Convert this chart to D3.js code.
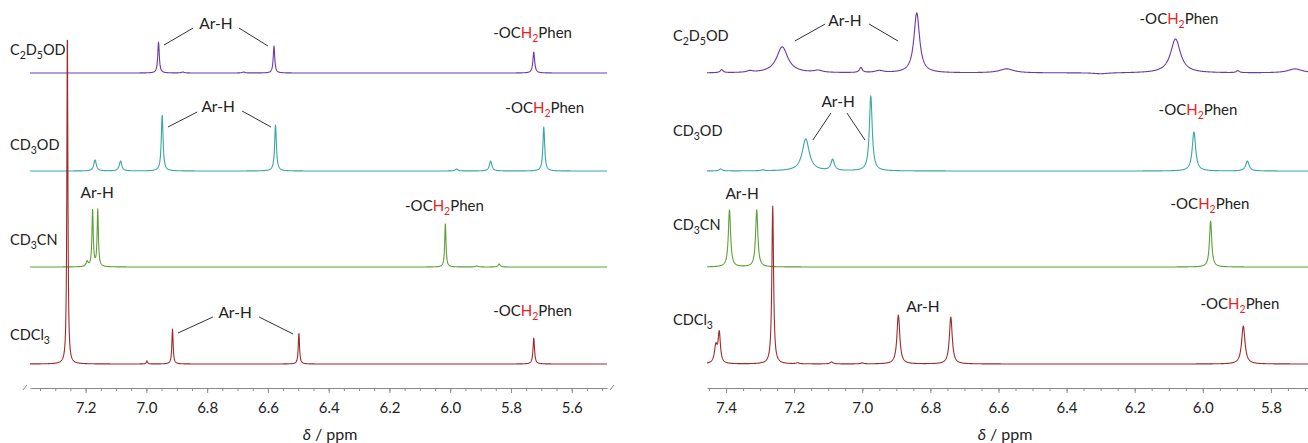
<!DOCTYPE html>
<html>
<head>
<meta charset="utf-8">
<script src="https://cdn.jsdelivr.net/npm/d3@7"></script>
<style>
  body { margin: 0; background: #fff; }
  svg text { font-family: Lato, "Open Sans", sans-serif; fill: #222; }
</style>
</head>
<body>
<svg id="chart" width="1308" height="443"></svg>
<script>
// solvents, top to bottom
const solventNames = ['C_2D_5OD', 'CD_3OD', 'CD_3CN', 'CDCl_3'];
const traceColors = ['#6c3aa8', '#36a7a2', '#5f9f36', '#9e2b2c'];
const baselines = [315, 217, 121, 24]; // intensity units above the axis

const leftTicks = [7.2, 7.0, 6.8, 6.6, 6.4, 6.2, 6.0, 5.8, 5.6];
const rightTicks = [7.4, 7.2, 7.0, 6.8, 6.6, 6.4, 6.2, 6.0, 5.8];

// peaks: [ppm, height, fwhm in ppm]
const leftPeaks = [
  [[6.96, 31, .006], [6.58, 27, .006], [5.725, 21, .007], [6.88, 1, .01], [6.68, 1, .01]],
  [[7.169, 11, .01], [7.085, 10, .01], [6.948, 56, .007], [6.575, 46, .007], [5.979, 2, .01], [5.867, 10, .01], [5.692, 44, .007]],
  [[7.195, 5, .008], [7.177, 57, .005], [7.16, 57, .005], [6.016, 44, .005], [5.913, 1, .01], [5.839, 3, .008]],
  [[7.26, 337, .004], [6.998, 3, .005], [6.914, 35, .005], [6.498, 31, .005], [5.725, 26, .006]]
];
const rightPeaks = [
  [[7.413, 3, .01], [7.33, 1.5, .02], [7.235, 26, .04], [7.13, 2, .03], [7.004, 5, .01], [6.95, 2, .03], [6.84, 60, .02],
   [6.576, 4, .05], [6.3, -1, .05], [6.08, 34, .035], [5.897, 2, .01], [5.729, 4, .05]],
  [[7.416, 2, .01], [7.292, 1, .01], [7.166, 32, .025], [7.087, 11, .012], [6.975, 75, .01], [6.026, 39, .012], [5.869, 10, .012]],
  [[7.39, 57, .008], [7.31, 57, .008], [5.977, 46, .008]],
  [[7.43, 17, .01], [7.42, 30, .008], [7.263, 158, .006], [7.19, 1, .01], [7.09, 2, .01], [7.0, 1, .01],
   [6.894, 49, .01], [6.74, 47, .01], [5.881, 38, .012]]
];

// annotations: [ppm, level] for text centre, leader lines [ppm1, lvl1, ppm2, lvl2]
const leftArH = [[6.771, 364], [6.764, 281], [7.162, 195], [6.708, 75]];
const leftArHLines = [
  [[6.942, 343, 6.846, 360], [6.695, 360, 6.600, 342]],
  [[6.929, 261, 6.833, 276], [6.685, 277, 6.590, 261]],
  [],
  [[6.896, 55, 6.781, 71], [6.629, 71, 6.517, 54]]
];
const leftCH2 = [[5.729, 350], [5.689, 275], [6.019, 177], [5.729, 72]];
const rightArH = [[7.051, 367], [7.071, 286], [7.353, 194], [6.822, 81]];
const rightArHLines = [
  [[7.198, 347, 7.109, 364], [6.980, 364, 6.895, 347]],
  [[7.145, 248, 7.092, 275], [7.045, 275, 6.992, 248]],
  [],
  []
];
const rightCH2 = [[6.070, 364], [6.014, 273], [5.979, 179], [5.891, 79]];
const leftNameLift = [18, 21, 22, 24];
const rightNameLift = [32, 35, 37, 39];

const svg = d3.select('#chart');
const y = d3.scaleLinear().domain([0, 388]).range([388, 0]);
const red = '#ee1c25';

function richText(sel, parts) {
  let shift = 0;
  parts.forEach(p => {
    const want = p.sub ? 4 : 0;
    sel.append('tspan')
      .attr('dy', want - shift)
      .style('font-size', p.sub ? '10.5px' : null)
      .style('fill', p.red ? red : null)
      .text(p.t);
    shift = want;
  });
}
function solventParts(name) {
  return name.split(/(_\d)/).filter(s => s).map(s =>
    s[0] == '_' ? { t: s.slice(1), sub: true } : { t: s });
}
const ch2Parts = [{ t: '-OC' }, { t: 'H', red: true }, { t: '2', sub: true, red: true }, { t: 'Phen' }];

function lorentz(ppm, peaks) {
  let s = 0;
  peaks.forEach(([c, h, w]) => {
    const g = w / 2;
    s += h * g * g / ((ppm - c) * (ppm - c) + g * g);
  });
  return s;
}

function drawPanel(cfg) {
  const x = d3.scaleLinear().domain(cfg.domain).range(cfg.range);
  const g = svg.append('g');

  // axis
  const axis = g.append('g').attr('transform', `translate(0,${y(0)})`)
    .call(d3.axisBottom(x).tickValues(cfg.ticks).tickFormat(d3.format('.1f')).tickSize(5).tickSizeOuter(0));
  g.append('g').attr('transform', `translate(0,${y(0)})`)
    .call(d3.axisBottom(x).tickValues(x.ticks(40)).tickFormat('').tickSize(3).tickSizeOuter(0))
    .select('.domain').remove();
  g.selectAll('.domain, .tick line').attr('stroke', '#8a8a8a');
  axis.selectAll('.tick text')
    .attr('y', 14)
    .style('font-size', '15px')
    .style('font-family', 'Lato, "Open Sans", sans-serif')
    .style('fill', '#222');

  if (cfg.breaks) {
    cfg.range.forEach(r => {
      const bx = r + (r == cfg.range[0] ? -5 : 5);
      g.append('line')
        .attr('x1', bx - 2).attr('y1', y(0) + 2)
        .attr('x2', bx + 2).attr('y2', y(0) - 3)
        .attr('stroke', '#8a8a8a');
    });
  }

  const title = g.append('text')
    .attr('x', cfg.titleX).attr('y', 440)
    .attr('text-anchor', 'middle')
    .style('font-size', '16px');
  title.append('tspan').style('font-style', 'italic').text('δ');
  title.append('tspan').text(' / ppm');

  // spectra
  const px = d3.range(cfg.range[0], cfg.range[1] + 0.01, 0.25);
  cfg.peaks.forEach((peaks, i) => {
    const pts = px.map(p => {
      const ppm = x.invert(p);
      return [ppm, baselines[i] + lorentz(ppm, peaks)];
    });
    g.append('path')
      .datum(pts)
      .attr('fill', 'none')
      .attr('stroke', traceColors[i])
      .attr('stroke-width', 1.1)
      .attr('stroke-linejoin', 'round')
      .attr('d', d3.line().x(d => x(d[0])).y(d => y(d[1])));
  });

  // solvent names
  solventNames.forEach((n, i) => {
    const t = g.append('text')
      .attr('x', cfg.range[0] - cfg.nameGap)
      .attr('y', y(baselines[i] + cfg.nameLift[i]))
      .attr('dy', '0.35em')
      .style('font-size', '14.5px');
    richText(t, solventParts(n));
  });

  // annotations
  cfg.arH.forEach(([p, l]) => {
    g.append('text')
      .attr('x', x(p)).attr('y', y(l)).attr('dy', '0.35em')
      .attr('text-anchor', 'middle')
      .style('font-size', '15.5px')
      .text('Ar-H');
  });
  cfg.arHLines.flat().forEach(([p1, l1, p2, l2]) => {
    g.append('line')
      .attr('x1', x(p1)).attr('y1', y(l1))
      .attr('x2', x(p2)).attr('y2', y(l2))
      .attr('stroke', '#333').attr('stroke-width', 1);
  });
  cfg.ch2.forEach(([p, l]) => {
    const t = g.append('text')
      .attr('x', x(p)).attr('y', y(l)).attr('dy', '0.35em')
      .attr('text-anchor', 'middle')
      .style('font-size', '15px');
    richText(t, ch2Parts);
  });
}

drawPanel({
  domain: [7.383, 5.484], range: [30, 607], ticks: leftTicks, peaks: leftPeaks,
  arH: leftArH, arHLines: leftArHLines, ch2: leftCH2,
  nameLift: leftNameLift, nameGap: 20, titleX: 330, breaks: true
});
drawPanel({
  domain: [7.456, 5.691], range: [707, 1308], ticks: rightTicks, peaks: rightPeaks,
  arH: rightArH, arHLines: rightArHLines, ch2: rightCH2,
  nameLift: rightNameLift, nameGap: 34, titleX: 1005, breaks: false
});
</script>
</body>
</html>
